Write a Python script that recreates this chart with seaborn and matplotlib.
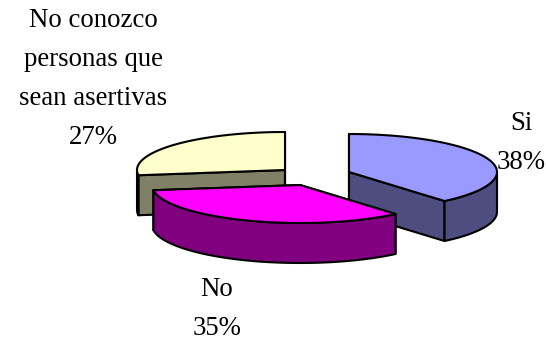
import numpy as np
import matplotlib
matplotlib.use("Agg")
import matplotlib.pyplot as plt
from matplotlib.patches import Polygon
import seaborn as sns

categories = ["Si", "No", "No conozco\npersonas que\nsean asertivas"]
values = [38, 35, 27]
top_colors = ["#9999FF", "#FF00FF", "#FFFFCC"]
side_colors = ["#4D4D80", "#800080", "#808066"]
centers = [(349, 172), (300, 185), (285, 170)]
label_pos = [(521, 143), (217, 309), (93, 79)]

RX, RY, DEPTH = 148, 38, 40
START = 90
WARP = 3.0  # slight perspective squeeze of the 3D view

sns.set_theme(style="white")
plt.rcParams["font.family"] = ["Liberation Serif", "DejaVu Serif"]

fig = plt.figure(figsize=(5.46, 3.41), dpi=100, facecolor="white")
ax = fig.add_axes([0, 0, 1, 1])
ax.set_xlim(0, 546)
ax.set_ylim(341, 0)
ax.axis("off")


def arc(c, a0, a1, dy=0, n=80):
    t = np.radians(np.linspace(a0, a1, n))
    return np.column_stack([c[0] + RX * np.cos(t), c[1] - RY * np.sin(t) + dy])


def add(points, color, z):
    ax.add_patch(Polygon(points, closed=True, facecolor=color, edgecolor="black",
                         linewidth=1.5, joinstyle="round", zorder=z))


raw = START - np.cumsum([0] + values) * 360 / sum(values)
angles = raw + WARP * np.sin(np.radians(2 * raw))
order = [2, 0, 1]
for depth_order, i in enumerate(order):
    a0, a1 = angles[i], angles[i + 1]
    c = centers[i]
    z = 2 + depth_order
    # cut faces
    for a in (a0, a1):
        p = arc(c, a, a, n=1)[0]
        add([c, p, p + [0, DEPTH], (c[0], c[1] + DEPTH)], side_colors[i], z)
    # outer wall: front half of the rim only
    lo, hi = max(a1, -180), min(a0, 0)
    if lo < hi:
        rim = arc(c, lo, hi)
        add(np.vstack([rim, (rim + [0, DEPTH])[::-1]]), side_colors[i], z)
    # top face
    add(np.vstack([[c], arc(c, a0, a1)]), top_colors[i], z)

for cat, val, pos in zip(categories, values, label_pos):
    ax.text(pos[0], pos[1], f"{cat}\n{val}%", ha="center", va="center",
            fontsize=19.3, color="black", linespacing=1.72, zorder=10)

fig.savefig("out.png", dpi=100)
